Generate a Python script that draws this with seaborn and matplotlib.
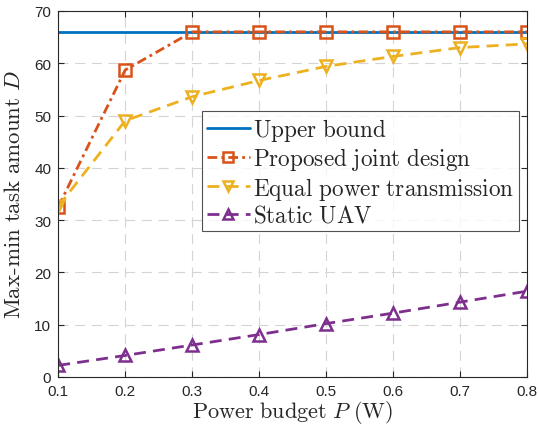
import numpy as np
import pandas as pd
import matplotlib.pyplot as plt
import seaborn as sns

# data
power = [0.1, 0.2, 0.3, 0.4, 0.5, 0.6, 0.7, 0.8]
upper_bound = [66, 66, 66, 66, 66, 66, 66, 66]
proposed = [32.5, 58.7, 66, 66, 66, 66, 66, 66]
equal_power = [32.6, 49.0, 53.6, 56.7, 59.4, 61.3, 63.0, 63.7]
static_uav = [2.2, 4.1, 6.1, 8.1, 10.2, 12.2, 14.3, 16.4]

sns.set_style("ticks")
plt.rcParams['mathtext.fontset'] = 'cm'
plt.rcParams['font.family'] = ['Liberation Sans', 'DejaVu Sans']

fig = plt.figure(figsize=(5.39, 4.27), dpi=100)
ax = fig.add_axes([0.108, 0.115, 0.870, 0.857])

series = [
    (r'$\mathrm{Upper\ bound}$', upper_bound, '#0072BD', '-', None),
    (r'$\mathrm{Proposed\ joint\ design}$', proposed, '#D95319', (0, (3.5, 1.5, 1, 1.5)), 's'),
    (r'$\mathrm{Equal\ power\ transmission}$', equal_power, '#EDB120', (0, (4.3, 2.6)), 'v'),
    (r'$\mathrm{Static\ UAV}$', static_uav, '#7E2F8E', (0, (4.3, 2.6)), '^'),
]

for label, vals, color, ls, mk in series:
    sns.lineplot(x=power, y=vals, ax=ax, color=color, linestyle=ls, linewidth=2,
                 marker=mk, markersize=9, markerfacecolor='none',
                 markeredgecolor=color, markeredgewidth=1.8, label=label)

ax.set_xlim(0.1, 0.8)
ax.set_ylim(0, 70)
ax.set_xticks(power)
ax.set_xticklabels(['0.1', '0.2', '0.3', '0.4', '0.5', '0.6', '0.7', '0.8'])
ax.set_yticks(range(0, 71, 10))
ax.grid(True, linestyle=(0, (9, 6)), color='#d4d4d4', linewidth=0.8)
ax.tick_params(direction='in', labelsize=11, colors='#262626', length=4,
               top=True, right=True)
ax.tick_params(axis='x', pad=5)
ax.tick_params(axis='y', pad=5)
for s in ax.spines.values():
    s.set_color('#262626')
    s.set_linewidth(0.8)

ax.set_xlabel(r'$\mathrm{Power\ budget}\ P\ \mathrm{(W)}$', fontsize=16)
ax.set_ylabel(r'$\mathrm{Max\text{-}min\ task\ amount}\ D$', fontsize=16.5)
ax.xaxis.set_label_coords(0.5, -0.057)
ax.yaxis.set_label_coords(-0.07, 0.5)

leg = ax.legend(loc='upper left', bbox_to_anchor=(0.307, 0.726), fontsize=16.7,
                frameon=True, fancybox=False, edgecolor='#262626',
                handlelength=1.85, borderpad=0.2, labelspacing=0.1,
                handletextpad=0.15, borderaxespad=0, markerscale=0.8)
leg.get_frame().set_linewidth(0.8)

fig.savefig('out.png', dpi=100)
